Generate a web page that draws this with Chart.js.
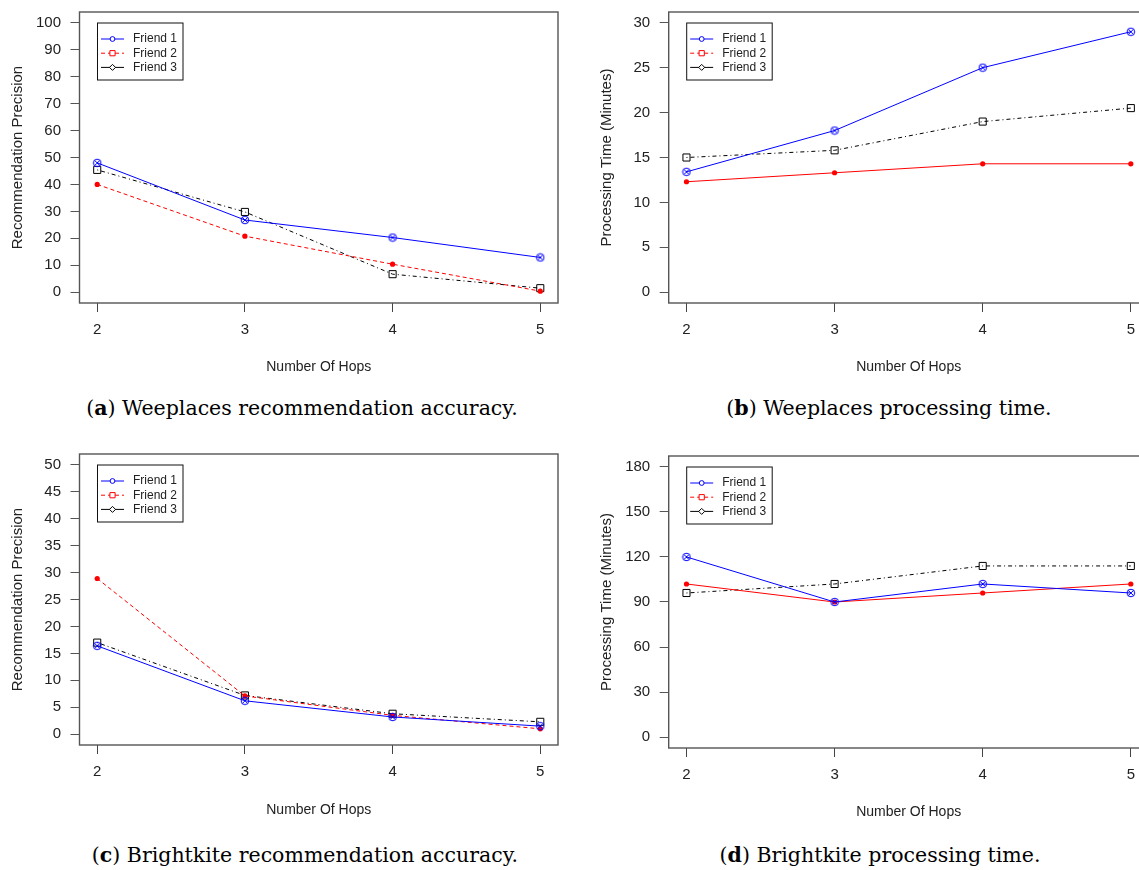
<!DOCTYPE html>
<html lang="en">
<head>
<meta charset="UTF-8" />
<title>Hops vs precision and processing time</title>
<script src="https://cdn.jsdelivr.net/npm/chart.js"></script>
<style>
  html, body { margin: 0; padding: 0; background: #fff; overflow: hidden; width: 1139px; height: 870px; }
  canvas { position: absolute; }
  .caption {
    position: absolute; white-space: nowrap; color: #000;
    font-family: "DejaVu Serif", serif; font-size: 20.5px;
    transform: translate(-50%, -50%);
  }
</style>
</head>
<body>
<canvas id="chartA" width="570" height="390" style="left:0;top:0"></canvas>
<canvas id="chartB" width="590" height="390" style="left:570px;top:0"></canvas>
<canvas id="chartC" width="570" height="390" style="left:0;top:440px"></canvas>
<canvas id="chartD" width="590" height="390" style="left:570px;top:440px"></canvas>

<div class="caption" style="left:302px;top:408px">(<b>a</b>) Weeplaces recommendation accuracy.</div>
<div class="caption" style="left:889px;top:408px">(<b>b</b>) Weeplaces processing time.</div>
<div class="caption" style="left:305px;top:855px">(<b>c</b>) Brightkite recommendation accuracy.</div>
<div class="caption" style="left:880px;top:855px">(<b>d</b>) Brightkite processing time.</div>

<script>
// data
const hops = [2, 3, 4, 5];
const seriesNames = ['Friend 1', 'Friend 2', 'Friend 3'];

// (a) Weeplaces recommendation precision
const weeAccF1 = [48, 26.8, 20.3, 12.9];
const weeAccF2 = [40, 20.8, 10.4, 0.4];
const weeAccF3 = [45.4, 29.8, 6.7, 1.5];
const weeAccTicks = [0, 10, 20, 30, 40, 50, 60, 70, 80, 90, 100];

// (b) Weeplaces processing time (minutes)
const weeTimeF1 = [13.4, 18, 25, 29];
const weeTimeF2 = [12.3, 13.3, 14.3, 14.3];
const weeTimeF3 = [15, 15.8, 19, 20.5];
const weeTimeTicks = [0, 5, 10, 15, 20, 25, 30];

// (c) Brightkite recommendation precision
const briAccF1 = [16.4, 6.2, 3.2, 1.5];
const briAccF2 = [28.9, 7.1, 3.5, 1.0];
const briAccF3 = [17, 7.2, 3.8, 2.3];
const briAccTicks = [0, 5, 10, 15, 20, 25, 30, 35, 40, 45, 50];

// (d) Brightkite processing time (minutes)
const briTimeF1 = [120, 90, 102, 96];
const briTimeF2 = [102, 90, 96, 102];
const briTimeF3 = [96, 102, 114, 114];
const briTimeTicks = [0, 30, 60, 90, 120, 150, 180];

const FONT = '"Liberation Sans", Arial, sans-serif';
const TEXT = '#222';
const BLUE = '#0000ff', RED = '#ff0000', BLACK = '#000000';

// circle with an x in it, like R's pch 10/13
function circleCross(color) {
  const c = document.createElement('canvas');
  c.width = 10; c.height = 10;
  const g = c.getContext('2d');
  g.strokeStyle = color; g.lineWidth = 1;
  g.beginPath(); g.arc(5, 5, 3.8, 0, Math.PI * 2); g.stroke();
  g.beginPath();
  g.moveTo(2.3, 2.3); g.lineTo(7.7, 7.7);
  g.moveTo(7.7, 2.3); g.lineTo(2.3, 7.7);
  g.stroke();
  return c;
}
const blueMark = circleCross(BLUE);

// box round the plot region
const rBox = {
  id: 'rBox',
  afterDatasetsDraw(chart) {
    const { ctx, chartArea: a } = chart;
    ctx.save();
    ctx.strokeStyle = '#555';
    ctx.lineWidth = 1.4;
    ctx.strokeRect(a.left, a.top, a.right - a.left, a.bottom - a.top);
    ctx.restore();
  }
};

// legend drawn the way R's legend() does, boxed in the top-left corner
const legendKeys = [
  { color: BLUE, dash: [], mark: 'circle' },
  { color: RED, dash: [4, 3], mark: 'square' },
  { color: BLACK, dash: [], mark: 'diamond' }
];
const rLegend = {
  id: 'rLegend',
  afterDatasetsDraw(chart) {
    const { ctx, chartArea: a } = chart;
    const L = a.left + 18, T = a.top + 11;
    ctx.save();
    ctx.strokeStyle = '#111';
    ctx.lineWidth = 1;
    ctx.strokeRect(L, T, 85.5, 57);
    legendKeys.forEach((k, i) => {
      const y = T + 16 + i * 14.2;
      ctx.strokeStyle = k.color;
      ctx.setLineDash(k.dash);
      ctx.beginPath(); ctx.moveTo(L + 3.5, y); ctx.lineTo(L + 26.5, y); ctx.stroke();
      ctx.setLineDash([]);
      const mx = L + 15;
      ctx.beginPath();
      if (k.mark === 'circle') ctx.arc(mx, y, 2.4, 0, Math.PI * 2);
      else if (k.mark === 'square') ctx.rect(mx - 2.6, y - 2.6, 5.2, 5.2);
      else { ctx.moveTo(mx, y - 3); ctx.lineTo(mx + 3, y); ctx.lineTo(mx, y + 3); ctx.lineTo(mx - 3, y); ctx.closePath(); }
      ctx.fillStyle = '#fff'; ctx.fill(); ctx.stroke();
      ctx.fillStyle = TEXT;
      ctx.font = '12px ' + FONT;
      ctx.textBaseline = 'middle';
      ctx.fillText(seriesNames[i], L + 35.5, y);
    });
    ctx.restore();
  }
};

function makeChart(id, cfg) {
  const yMin = cfg.yTicks[0], yMax = cfg.yTicks[cfg.yTicks.length - 1];
  const yExt = (yMax - yMin) * 0.04;
  const xExt = (hops[hops.length - 1] - hops[0]) * 0.04;
  const pts = arr => arr.map((v, i) => ({ x: hops[i], y: v }));

  return new Chart(document.getElementById(id), {
    type: 'line',
    data: {
      datasets: [
        { label: seriesNames[0], data: pts(cfg.f1), borderColor: BLUE, borderWidth: 1,
          pointStyle: blueMark, pointRadius: 4 },
        { label: seriesNames[1], data: pts(cfg.f2), borderColor: RED, borderWidth: 1,
          borderDash: cfg.redDash, pointStyle: 'circle', pointRadius: 2.6,
          pointBackgroundColor: RED, pointBorderColor: RED, pointBorderWidth: 0 },
        { label: seriesNames[2], data: pts(cfg.f3), borderColor: BLACK, borderWidth: 1,
          borderDash: [1, 3, 4, 3], pointStyle: 'rect', pointRadius: 5,
          pointBackgroundColor: 'rgba(0,0,0,0)', pointBorderColor: BLACK, pointBorderWidth: 1 }
      ]
    },
    options: {
      responsive: false,
      animation: false,
      layout: { padding: { top: cfg.padTop, right: cfg.padRight, left: 0, bottom: 0 } },
      elements: { line: { tension: 0 } },
      plugins: { legend: { display: false }, tooltip: { enabled: false } },
      scales: {
        x: {
          type: 'linear',
          min: hops[0] - xExt,
          max: hops[hops.length - 1] + xExt,
          afterBuildTicks: s => { s.ticks = hops.map(v => ({ value: v })); },
          afterFit: s => { s.height = cfg.xHeight; s.paddingLeft = 0; s.paddingRight = 0; },
          grid: { drawOnChartArea: false, drawTicks: true, tickLength: 9, tickColor: '#444' },
          border: { display: false },
          ticks: { padding: cfg.xLabelPad, color: TEXT, font: { family: FONT, size: 15 },
                   maxRotation: 0, autoSkip: false, callback: v => String(v) },
          title: { display: true, text: 'Number Of Hops', color: TEXT,
                   font: { family: FONT, size: 14 }, padding: { top: 0, bottom: cfg.xTitlePad } }
        },
        y: {
          min: yMin - yExt,
          max: yMax + yExt,
          afterBuildTicks: s => { s.ticks = cfg.yTicks.map(v => ({ value: v })); },
          afterFit: s => { s.width = cfg.yWidth; s.paddingTop = 0; s.paddingBottom = 0; },
          grid: { drawOnChartArea: false, drawTicks: true, tickLength: 9, tickColor: '#555' },
          border: { display: false },
          ticks: { padding: 9.5, color: TEXT, font: { family: FONT, size: 15 }, callback: v => String(v) },
          title: { display: true, text: cfg.yTitle, color: TEXT,
                   font: { family: FONT, size: 15 }, padding: { top: cfg.yTitlePad, bottom: 0 } }
        }
      }
    },
    plugins: [rBox, rLegend]
  });
}

makeChart('chartA', {
  f1: weeAccF1, f2: weeAccF2, f3: weeAccF3, yTicks: weeAccTicks,
  yTitle: 'Recommendation Precision', redDash: [4, 3],
  padTop: 12, padRight: 12, yWidth: 79.5, xHeight: 87,
  xLabelPad: 9, xTitlePad: 14.6, yTitlePad: 8.5
});
makeChart('chartB', {
  f1: weeTimeF1, f2: weeTimeF2, f3: weeTimeF3, yTicks: weeTimeTicks,
  yTitle: 'Processing Time (Minutes)', redDash: [],
  padTop: 12, padRight: 11.4, yWidth: 98.7, xHeight: 87,
  xLabelPad: 9, xTitlePad: 14.6, yTitlePad: 27.4
});
makeChart('chartC', {
  f1: briAccF1, f2: briAccF2, f3: briAccF3, yTicks: briAccTicks,
  yTitle: 'Recommendation Precision', redDash: [4, 3],
  padTop: 14, padRight: 12, yWidth: 79.5, xHeight: 85,
  xLabelPad: 9.3, xTitlePad: 11.6, yTitlePad: 8.5
});
makeChart('chartD', {
  f1: briTimeF1, f2: briTimeF2, f3: briTimeF3, yTicks: briTimeTicks,
  yTitle: 'Processing Time (Minutes)', redDash: [],
  padTop: 16, padRight: 11.4, yWidth: 98.7, xHeight: 82,
  xLabelPad: 9, xTitlePad: 9.6, yTitlePad: 27.4
});
</script>
</body>
</html>
